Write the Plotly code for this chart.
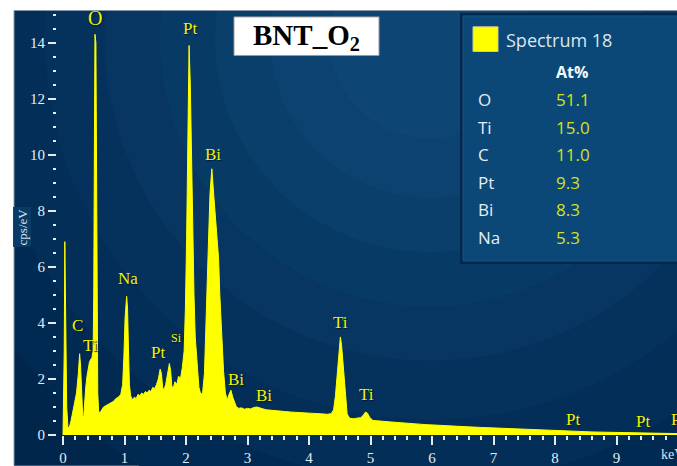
import plotly.graph_objects as go

# ---------------- data ----------------
energy_kev = [0.00, 0.02, 0.03, 0.045, 0.06, 0.08, 0.10, 0.13, 0.16, 0.19, 0.22, 0.25, 0.27, 0.285,
              0.30, 0.32, 0.335, 0.35, 0.37, 0.39, 0.41, 0.43, 0.45, 0.47, 0.49, 0.50, 0.51, 0.52,
              0.535, 0.545, 0.555, 0.565, 0.58, 0.60, 0.63, 0.66, 0.70, 0.74, 0.78, 0.82, 0.86,
              0.90, 0.94, 0.97, 0.99, 1.01, 1.035, 1.05, 1.065, 1.08, 1.10, 1.13, 1.16, 1.19,
              1.22, 1.25, 1.28, 1.31, 1.34, 1.37, 1.40, 1.43, 1.46, 1.49, 1.52, 1.55, 1.58,
              1.60, 1.62, 1.64, 1.67, 1.70, 1.73, 1.75, 1.77, 1.79, 1.82, 1.85, 1.88, 1.91,
              1.94, 1.97, 1.99, 2.01, 2.03, 2.05, 2.07, 2.09, 2.11, 2.13, 2.15, 2.18, 2.21,
              2.24, 2.27, 2.30, 2.33, 2.36, 2.39, 2.42, 2.45, 2.48, 2.51, 2.53, 2.55, 2.58,
              2.61, 2.64, 2.67, 2.70, 2.73, 2.76, 2.79, 2.82, 2.86, 2.90, 2.95, 3.00, 3.05,
              3.10, 3.15, 3.20, 3.25, 3.30, 3.40, 3.50, 3.60, 3.70, 3.80, 3.90, 4.00, 4.10,
              4.20, 4.30, 4.36, 4.40, 4.43, 4.46, 4.49, 4.51, 4.53, 4.56, 4.59, 4.62, 4.66,
              4.72, 4.78, 4.84, 4.88, 4.92, 4.95, 4.99, 5.04, 5.10, 5.20, 5.30, 5.40, 5.50,
              5.60, 5.70, 5.80, 5.90, 6.00, 6.20, 6.40, 6.60, 6.80, 7.00, 7.20, 7.40, 7.60,
              7.80, 8.00, 8.20, 8.40, 8.60, 8.80, 9.00, 9.20, 9.40, 9.60, 9.80, 10.00]

counts_cps = [0.0, 3.0, 6.9, 3.0, 1.0, 0.3, 0.25, 0.5, 0.8, 1.1, 1.5, 2.2, 2.9, 2.5,
              1.4, 0.7, 0.6, 1.2, 1.7, 2.1, 2.4, 2.6, 2.7, 2.75, 3.0, 5.0, 10.0, 14.3,
              14.0, 9.0, 4.0, 1.5, 0.85, 0.78, 0.9, 1.0, 1.05, 1.1, 1.15, 1.2, 1.3,
              1.35, 1.45, 1.8, 2.8, 4.2, 4.95, 4.5, 3.0, 1.8, 1.4, 1.25, 1.35, 1.3,
              1.45, 1.4, 1.5, 1.45, 1.55, 1.5, 1.6, 1.55, 1.7, 1.65, 1.8, 2.0, 2.35,
              2.2, 1.7, 1.6, 1.8, 2.2, 2.55, 2.3, 1.75, 1.65, 1.9, 1.8, 2.1, 2.0,
              2.4, 3.0, 4.5, 7.0, 10.5, 13.9, 12.5, 9.8, 7.0, 5.0, 3.5, 2.4, 1.7,
              1.45, 1.5, 2.2, 4.0, 6.5, 8.6, 9.5, 8.6, 7.6, 6.9, 6.3, 5.0, 3.6,
              2.3, 1.5, 1.25, 1.45, 1.6, 1.35, 1.15, 1.0, 0.95, 0.97, 0.92, 0.95, 0.93,
              0.98, 1.0, 0.97, 0.95, 0.9, 0.88, 0.85, 0.84, 0.82, 0.80, 0.79, 0.78, 0.77,
              0.75, 0.74, 0.76, 0.9, 1.4, 2.3, 3.2, 3.5, 3.2, 2.3, 1.3, 0.75, 0.6,
              0.58, 0.6, 0.62, 0.7, 0.82, 0.78, 0.62, 0.52, 0.5, 0.49, 0.47, 0.45, 0.44,
              0.42, 0.40, 0.39, 0.37, 0.36, 0.33, 0.31, 0.29, 0.27, 0.25, 0.23, 0.21, 0.19,
              0.17, 0.15, 0.13, 0.12, 0.11, 0.10, 0.09, 0.08, 0.07, 0.06, 0.05, 0.05]

x_tick_values = [0, 1, 2, 3, 4, 5, 6, 7, 8, 9]
y_tick_values = [0, 2, 4, 6, 8, 10, 12, 14]

# peak labels: text, energy (keV), height (cps)
peak_labels = ["O", "Pt", "Bi", "Na", "C", "Ti", "Pt", "Si", "Bi", "Bi", "Ti", "Ti", "Pt", "Pt"]
peak_label_kev = [0.52, 2.06, 2.44, 1.06, 0.24, 0.44, 1.54, 1.84, 2.81, 3.27, 4.52, 4.94, 8.29, 9.43]
peak_label_cps = [14.9, 14.5, 10.0, 5.57, 3.9, 3.2, 2.93, 3.45, 1.97, 1.41, 4.02, 1.45, 0.56, 0.49]

spectrum_name = "Spectrum 18"
elements = ["O", "Ti", "C", "Pt", "Bi", "Na"]
atomic_pct = ["51.1", "15.0", "11.0", "9.3", "8.3", "5.3"]
sample_title = "BNT_O<sub>2</sub>"

# ---------------- layout geometry ----------------
W, H = 677, 466
ML, MR, MT, MB = 57, 0, 10, 26
PW, PH = W - ML - MR, H - MT - MB


def px(xp):
    return (xp - ML) / PW


def py(yp):
    return (H - MB - yp) / PH


fig = go.Figure()

fig.add_trace(go.Scatter(
    x=energy_kev, y=counts_cps, mode="lines", fill="tozeroy",
    line=dict(color="#ffff00", width=1), fillcolor="#ffff00",
    hoverinfo="skip", showlegend=False))

shapes = []
# dark navy background
shapes.append(dict(type="rect", xref="paper", yref="paper", x0=px(14), x1=px(W + 5),
                   y0=py(H + 5), y1=py(10), fillcolor="#00264b", line=dict(width=0), layer="below"))
# radial-ish glow via concentric circles
cx, cy = 430, 40
ring_cols = ["#012a52", "#022e57", "#04325c", "#063661", "#083a66", "#0a3e6b", "#0c4270", "#0d4674"]
radii = [520, 450, 385, 325, 270, 215, 160, 100]
for r, c in zip(radii, ring_cols):
    shapes.append(dict(type="circle", xref="paper", yref="paper",
                       x0=px(cx - r), x1=px(cx + r), y0=py(cy + r), y1=py(cy - r),
                       fillcolor=c, line=dict(width=0), layer="below"))
# white strips (top & left)
shapes.append(dict(type="rect", xref="paper", yref="paper", x0=px(-5), x1=px(W + 5),
                   y0=py(10), y1=py(-5), fillcolor="white", line=dict(width=0), layer="below"))
shapes.append(dict(type="rect", xref="paper", yref="paper", x0=px(-5), x1=px(14),
                   y0=py(H + 5), y1=py(-5), fillcolor="white", line=dict(width=0), layer="below"))
shapes.append(dict(type="line", xref="paper", yref="paper", x0=px(14), x1=px(W + 5),
                   y0=py(10.5), y1=py(10.5), line=dict(color="#8a9aaa", width=1), layer="below"))
shapes.append(dict(type="line", xref="paper", yref="paper", x0=px(14), x1=px(14),
                   y0=py(H + 5), y1=py(10), line=dict(color="#8a9aaa", width=1), layer="below"))
# legend panel
shapes.append(dict(type="rect", xref="paper", yref="paper", x0=px(460), x1=px(W + 5),
                   y0=py(267), y1=py(13), fillcolor="#03264a", line=dict(width=0), layer="above"))
shapes.append(dict(type="rect", xref="paper", yref="paper", x0=px(463), x1=px(W + 5),
                   y0=py(264), y1=py(16), fillcolor="#0b4878",
                   line=dict(color="#175585", width=1), layer="above"))
shapes.append(dict(type="rect", xref="paper", yref="paper", x0=px(473), x1=px(498),
                   y0=py(52), y1=py(27), fillcolor="#ffff00",
                   line=dict(color="#c8c8a0", width=1), layer="above"))
# title box
shapes.append(dict(type="rect", xref="paper", yref="paper", x0=px(234), x1=px(379),
                   y0=py(56), y1=py(17), fillcolor="white",
                   line=dict(color="#9a9a9a", width=1), layer="above"))

ann = []
label_font = dict(family="Liberation Serif", size=17, color="#f2f200",
                  shadow="1px 1px 1px #001a33")
for t, xk, yc in zip(peak_labels, peak_label_kev, peak_label_cps):
    f = dict(label_font)
    if t == "Si":
        f["size"] = 12
    if t == "O":
        f["size"] = 20
    ann.append(dict(x=xk, y=yc, xref="x", yref="y", text=t, showarrow=False,
                    font=f, xanchor="center", yanchor="middle"))
# last, clipped "Pt" at right edge
ann.append(dict(x=px(669), y=py(424), xref="paper", yref="paper", text="Pt", showarrow=False,
                font=label_font, xanchor="left", yanchor="middle"))
# keV axis label
ann.append(dict(x=px(659), y=py(460), xref="paper", yref="paper", text="keV", showarrow=False,
                font=dict(family="Liberation Serif", size=14, color="#dbe6f0"),
                xanchor="left", yanchor="middle"))
# cps/eV label
ann.append(dict(x=px(22), y=py(230), xref="paper", yref="paper", text="cps/eV", showarrow=False,
                textangle=-90, font=dict(family="Liberation Serif", size=13, color="#d4e2ee"),
                xanchor="center", yanchor="middle", bgcolor="#0a3a66"))
# title
ann.append(dict(x=px(306.5), y=py(37), xref="paper", yref="paper", text=sample_title,
                showarrow=False, font=dict(family="Liberation Serif", size=29, color="black",
                                           weight="bold"),
                xanchor="center", yanchor="middle"))
# legend panel text
ann.append(dict(x=px(504), y=py(40), xref="paper", yref="paper", text=spectrum_name,
                showarrow=False, font=dict(family="Open Sans", size=18, color="#dde6ee"),
                xanchor="left", yanchor="middle"))
ann.append(dict(x=px(554), y=py(73), xref="paper", yref="paper", text="<b>At%</b>",
                showarrow=False, font=dict(family="Open Sans", size=16, color="#f4f8fb"),
                xanchor="left", yanchor="middle"))
for i, (el, val) in enumerate(zip(elements, atomic_pct)):
    yy = 101 + i * 27.8
    ann.append(dict(x=px(476), y=py(yy), xref="paper", yref="paper", text=el, showarrow=False,
                    font=dict(family="Open Sans", size=17, color="#e6edf3"),
                    xanchor="left", yanchor="middle"))
    ann.append(dict(x=px(554), y=py(yy), xref="paper", yref="paper", text=val, showarrow=False,
                    font=dict(family="Open Sans", size=17, color="#d6e01c"),
                    xanchor="left", yanchor="middle"))

tick_col = "#e3ecf4"
fig.update_layout(
    width=W, height=H,
    margin=dict(l=ML, r=MR, t=MT, b=MB, pad=0),
    paper_bgcolor="white", plot_bgcolor="rgba(0,0,0,0)",
    shapes=shapes, annotations=ann, showlegend=False,
    xaxis=dict(range=[-(63 - ML) / 61.5, -(63 - ML) / 61.5 + PW / 61.5],
               tickvals=x_tick_values, ticktext=[str(v) for v in x_tick_values],
               ticks="outside", ticklen=9, tickwidth=2, tickcolor=tick_col,
               showgrid=False, zeroline=False, showline=False,
               tickfont=dict(family="Liberation Serif", size=15, color=tick_col),
               minor=dict(dtick=0.2, tick0=0, ticks="outside", ticklen=4, tickwidth=2,
                          tickcolor=tick_col, showgrid=False)),
    yaxis=dict(range=[0, PH / 28.35],
               tickvals=y_tick_values, ticktext=[str(v) for v in y_tick_values],
               ticks="outside", ticklen=8, tickwidth=2, tickcolor=tick_col,
               showgrid=False, zeroline=False, showline=False,
               tickfont=dict(family="Liberation Serif", size=15, color=tick_col),
               minor=dict(dtick=0.5, tick0=0, ticks="outside", ticklen=3, tickwidth=2,
                          tickcolor=tick_col, showgrid=False)),
)

fig.write_html("out.html")
